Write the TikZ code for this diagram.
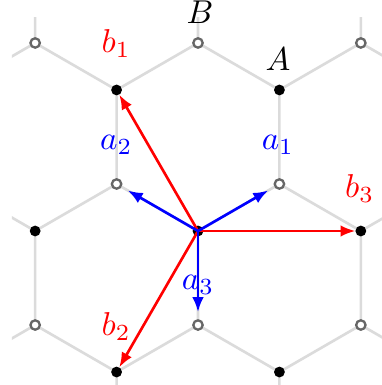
\documentclass[tikz,border=0pt]{standalone}
\usetikzlibrary{arrows.meta}
\begin{document}
\begin{tikzpicture}[x=1cm,y=1cm,
  bond/.style={draw=black!14,line width=0.8pt},
  asite/.style={circle,fill=black,inner sep=0pt,minimum size=1.15mm,outer sep=0pt},
  bsite/.style={circle,draw=black!60,fill=white,line width=0.7pt,inner sep=0pt,minimum size=1.0mm,outer sep=0pt},
  vecb/.style={draw=red,line width=0.8pt,-{Latex[length=4.5pt,width=3.5pt]}},
  veca/.style={draw=blue,line width=0.8pt,-{Latex[length=4.5pt,width=3.5pt]},shorten >=2.5pt},
  lbl/.style={inner sep=0pt}]
\useasboundingbox (-2.106,-1.638) rectangle (1.957,2.457);
\begin{scope}
  \clip (-1.98,-1.7) rectangle (1.98,2.27);
  \foreach \i in {-3,...,3}{\foreach \j in {-2,...,2}{
    \path (\i*1.7320508+\j*0.8660254, \j*1.5) coordinate (p);
    \draw[bond] (p) -- ++(0.8660254,0.5) (p) -- ++(-0.8660254,0.5) (p) -- ++(0,-1);
  }}
\end{scope}
% A sites
\node[asite] (A0) at (0,0) {};
\node[asite] (A1) at (1.7320508,0) {};
\node[asite] (A2) at (-1.7320508,0) {};
\node[asite] (A3) at (0.8660254,1.5) {};
\node[asite] (A4) at (-0.8660254,1.5) {};
\node[asite] (A5) at (0.8660254,-1.5) {};
\node[asite] (A6) at (-0.8660254,-1.5) {};
% B sites
\node[bsite] (B1) at (0.8660254,0.5) {};
\node[bsite] (B2) at (-0.8660254,0.5) {};
\node[bsite] (B3) at (0,-1) {};
\node[bsite] (B4) at (1.7320508,-1) {};
\node[bsite] (B5) at (-1.7320508,-1) {};
\node[bsite] (B6) at (0,2) {};
\node[bsite] (B7) at (1.7320508,2) {};
\node[bsite] (B8) at (-1.7320508,2) {};
% vectors
\draw[vecb] (A0.center) -- (A4);
\draw[vecb] (A0.center) -- (A6);
\draw[vecb] (A0.center) -- (A1);
\draw[veca] (A0.center) -- (B1);
\draw[veca] (A0.center) -- (B2);
\draw[veca] (A0.center) -- (B3);
% labels
\node[lbl] (lB) at (0.02,2.33) {$B$};
\node[lbl] (lA) at (0.85,1.83) {$A$};
\node[lbl,text=red] (lb1) at (-0.87,1.99) {$b_1$};
\node[lbl,text=blue] (la2) at (-0.87,0.915) {$a_2$};
\node[lbl,text=blue] (la1) at (0.85,0.915) {$a_1$};
\node[lbl,text=red] (lb3) at (1.72,0.45) {$b_3$};
\node[lbl,text=blue] (la3) at (0,-0.57) {$a_3$};
\node[lbl,text=red] (lb2) at (-0.87,-1.02) {$b_2$};
\end{tikzpicture}
\end{document}
